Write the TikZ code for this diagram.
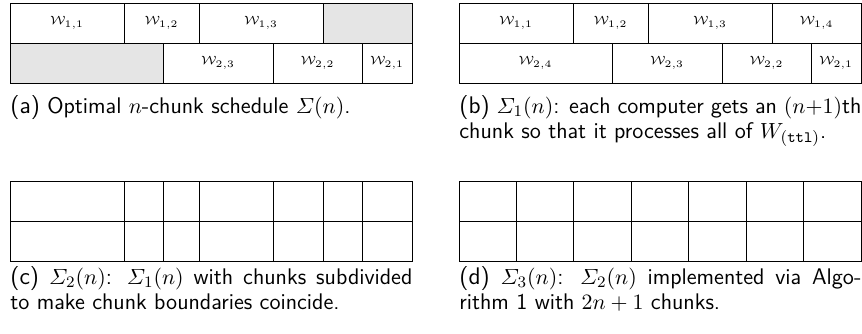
\documentclass[tikz,border=0pt]{standalone}
\usepackage{amsmath,amssymb}
\usepackage{fontspec}
\usepackage{xcolor}
\usepackage{tikz}
\usetikzlibrary{positioning}
\newcommand{\cw}[1]{$\mathcal{W}_{#1}$}
\newcommand{\sublbl}[1]{{\fontsize{12}{12}\selectfont(#1)}}

\begin{document}
\begin{tikzpicture}[x=1pt, y=1pt,
  cell/.style={draw, line width=0.5pt, minimum height=20pt, inner sep=0pt, outer sep=0pt, font=\fontsize{6}{7}\selectfont},
  idle/.style={cell, fill=gray!20},
  capt/.style={anchor=base west, inner sep=0pt, text width=201pt, align=justify, font=\sffamily\fontsize{11.3}{12.6}\selectfont}]
\useasboundingbox (0,0) rectangle (431,-166.5);
% (a) optimal schedule
\node[cell, minimum width=57pt, anchor=north west] (a11) at (5,-1.5) {\cw{1,1}};
\node[cell, minimum width=37.5pt, right=0pt of a11] (a12) {\cw{1,2}};
\node[cell, minimum width=62pt, right=0pt of a12] (a13) {\cw{1,3}};
\node[idle, minimum width=44.5pt, right=0pt of a13] (a14) {};
\node[idle, minimum width=76.5pt, anchor=north west] (a24) at (a11.south west) {};
\node[cell, minimum width=55pt, right=0pt of a24] (a23) {\cw{2,3}};
\node[cell, minimum width=44.5pt, right=0pt of a23] (a22) {\cw{2,2}};
\node[cell, minimum width=25pt, right=0pt of a22] (a21) {\cw{2,1}};
\node[capt] (capa) at (5,-56.5) {\sublbl{a} Optimal $n$-chunk schedule $\varSigma(n)$.};
% (b) one extra chunk each
\node[cell, minimum width=57pt, anchor=north west] (b11) at (229.5,-1.5) {\cw{1,1}};
\node[cell, minimum width=37.5pt, right=0pt of b11] (b12) {\cw{1,2}};
\node[cell, minimum width=62pt, right=0pt of b12] (b13) {\cw{1,3}};
\node[cell, minimum width=44.5pt, right=0pt of b13] (b14) {\cw{1,4}};
\node[cell, minimum width=76.5pt, anchor=north west] (b24) at (b11.south west) {\cw{2,4}};
\node[cell, minimum width=55pt, right=0pt of b24] (b23) {\cw{2,3}};
\node[cell, minimum width=44.5pt, right=0pt of b23] (b22) {\cw{2,2}};
\node[cell, minimum width=25pt, right=0pt of b22] (b21) {\cw{2,1}};
\node[capt] (capb) at (229.5,-56.5) {\sublbl{b} $\varSigma_1(n)$: each computer gets an $(n{+}1)$th\linebreak chunk so that it processes all of $W_{(\mathtt{ttl})}$.};
% (c) subdivided chunks
\node[cell, minimum width=57pt, anchor=north west] (c11) at (5,-90.5) {};
\node[cell, minimum width=19.5pt, right=0pt of c11] (c12) {};
\node[cell, minimum width=18pt, right=0pt of c12] (c13) {};
\node[cell, minimum width=37pt, right=0pt of c13] (c14) {};
\node[cell, minimum width=25pt, right=0pt of c14] (c15) {};
\node[cell, minimum width=19.5pt, right=0pt of c15] (c16) {};
\node[cell, minimum width=25pt, right=0pt of c16] (c17) {};
\node[cell, minimum width=57pt, anchor=north west] (c21) at (c11.south west) {};
\node[cell, minimum width=19.5pt, right=0pt of c21] (c22) {};
\node[cell, minimum width=18pt, right=0pt of c22] (c23) {};
\node[cell, minimum width=37pt, right=0pt of c23] (c24) {};
\node[cell, minimum width=25pt, right=0pt of c24] (c25) {};
\node[cell, minimum width=19.5pt, right=0pt of c25] (c26) {};
\node[cell, minimum width=25pt, right=0pt of c26] (c27) {};
\node[capt] (capc) at (5,-142) {\sublbl{c} $\varSigma_2(n)$: $\varSigma_1(n)$ with chunks subdivided\linebreak to make chunk boundaries coincide.};
% (d) equal chunks
\node[cell, minimum width=28.714pt, anchor=north west] (d11) at (229.5,-90.5) {};
\node[cell, minimum width=28.714pt, right=0pt of d11] (d12) {};
\node[cell, minimum width=28.714pt, right=0pt of d12] (d13) {};
\node[cell, minimum width=28.714pt, right=0pt of d13] (d14) {};
\node[cell, minimum width=28.714pt, right=0pt of d14] (d15) {};
\node[cell, minimum width=28.714pt, right=0pt of d15] (d16) {};
\node[cell, minimum width=28.714pt, right=0pt of d16] (d17) {};
\node[cell, minimum width=28.714pt, anchor=north west] (d21) at (d11.south west) {};
\node[cell, minimum width=28.714pt, right=0pt of d21] (d22) {};
\node[cell, minimum width=28.714pt, right=0pt of d22] (d23) {};
\node[cell, minimum width=28.714pt, right=0pt of d23] (d24) {};
\node[cell, minimum width=28.714pt, right=0pt of d24] (d25) {};
\node[cell, minimum width=28.714pt, right=0pt of d25] (d26) {};
\node[cell, minimum width=28.714pt, right=0pt of d26] (d27) {};
\node[capt] (capd) at (229.5,-142) {\sublbl{d} $\varSigma_3(n)$: $\varSigma_2(n)$ implemented via Algo-\linebreak rithm 1 with $2n+1$ chunks.};
\end{tikzpicture}
\end{document}
